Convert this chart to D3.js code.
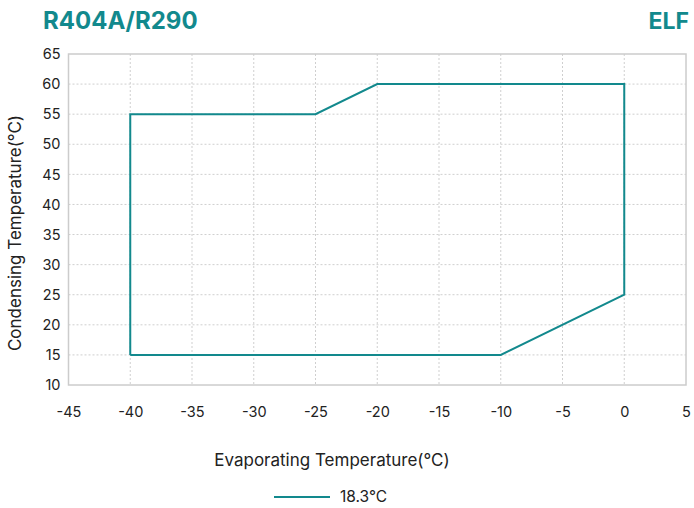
<!DOCTYPE html>
<html><head><meta charset="utf-8">
<script src="https://cdn.jsdelivr.net/npm/d3@7"></script>
<style>body{margin:0;background:#fff;}svg{display:block;font-family:Inter,"Noto Sans",sans-serif;}</style>
</head><body>
<svg id="c" width="694" height="508"></svg>
<script>
const title = "R404A/R290";
const model = "ELF";
const seriesName = "18.3°C";
const evap = [-40, -40, -25, -20, 0, 0, -10, -40];
const cond = [15, 55, 55, 60, 60, 25, 15, 15];
const xTicks = [-45, -40, -35, -30, -25, -20, -15, -10, -5, 0, 5];
const yTicks = [10, 15, 20, 25, 30, 35, 40, 45, 50, 55, 60, 65];

const teal = "#12898d";
const svg = d3.select("#c");
const m = {l: 68.5, r: 686, t: 54, b: 385};
const x = d3.scaleLinear().domain([-45, 5]).range([m.l, m.r]);
const y = d3.scaleLinear().domain([10, 65]).range([m.b, m.t]);
const fmt = d => String(d);

// grid
const g = svg.append("g");
g.selectAll(".vx").data(xTicks.slice(1, -1)).enter().append("line")
  .attr("x1", d => x(d)).attr("x2", d => x(d)).attr("y1", m.t).attr("y2", m.b)
  .attr("stroke", "#cfcfcf").attr("stroke-dasharray", "2,2").attr("stroke-width", 1);
g.selectAll(".hy").data(yTicks.slice(1, -1)).enter().append("line")
  .attr("y1", d => y(d)).attr("y2", d => y(d)).attr("x1", m.l).attr("x2", m.r)
  .attr("stroke", "#cfcfcf").attr("stroke-dasharray", "2,2").attr("stroke-width", 1);
svg.append("rect").attr("x", m.l).attr("y", m.t).attr("width", m.r - m.l).attr("height", m.b - m.t)
  .attr("fill", "none").attr("stroke", "#cccccc").attr("stroke-width", 1.5);

// axes
const xAxis = d3.axisBottom(x).tickValues(xTicks).tickFormat(fmt).tickSize(0).tickPadding(22);
const xa = svg.append("g").attr("transform", `translate(0,${m.b})`).call(xAxis);
xa.select(".domain").remove();
xa.selectAll("text").attr("font-size", 14.5).attr("fill", "#222").attr("font-family", "Inter,sans-serif");
const yAxis = d3.axisLeft(y).tickValues(yTicks).tickFormat(fmt).tickSize(0).tickPadding(8);
const ya = svg.append("g").attr("transform", `translate(${m.l},0)`).call(yAxis);
ya.select(".domain").remove();
ya.selectAll("text").attr("font-size", 14.5).attr("fill", "#222").attr("font-family", "Inter,sans-serif");

// series
const pts = evap.map((e, i) => [e, cond[i]]);
svg.append("path").datum(pts)
  .attr("d", d3.line().x(d => x(d[0])).y(d => y(d[1])))
  .attr("fill", "none").attr("stroke", teal).attr("stroke-width", 2);

// titles
svg.append("text").attr("x", 43).attr("y", 29).text(title)
  .attr("font-size", 24).attr("font-weight", 700).attr("fill", teal);
svg.append("text").attr("x", 689).attr("y", 29).attr("text-anchor", "end").text(model)
  .attr("font-size", 23).attr("font-weight", 700).attr("fill", teal);
svg.append("text").attr("x", 332).attr("y", 466).attr("text-anchor", "middle")
  .text("Evaporating Temperature(°C)").attr("font-size", 17).attr("fill", "#222");
svg.append("text").attr("transform", `translate(21,233) rotate(-90)`)
  .attr("text-anchor", "middle").text("Condensing Temperature(°C)").attr("font-size", 17).attr("fill", "#222");

// legend
svg.append("line").attr("x1", 274).attr("x2", 330).attr("y1", 497).attr("y2", 497)
  .attr("stroke", teal).attr("stroke-width", 2);
svg.append("text").attr("x", 340).attr("y", 502).text(seriesName).attr("font-size", 15.5).attr("fill", "#222");
</script>
</body></html>
